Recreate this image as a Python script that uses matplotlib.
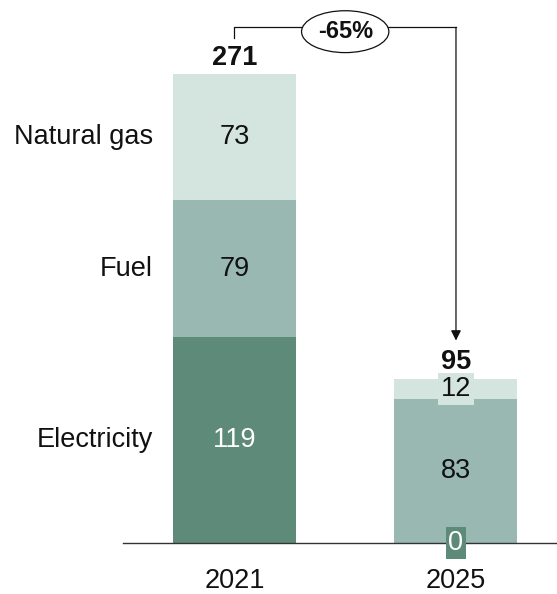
import matplotlib.pyplot as plt
import numpy as np

plt.rcParams["font.family"] = ["Liberation Sans", "DejaVu Sans"]

YEARS = ["2021", "2025"]
SEGMENTS = ["Electricity", "Fuel", "Natural gas"]
ELECTRICITY = [119, 0]
FUEL = [79, 83]
NATURAL_GAS = [73, 12]
CHANGE_LABEL = "-65%"

COLORS = {
    "Electricity": "#5e8a7a",
    "Fuel": "#99b8b2",
    "Natural gas": "#d4e5e0",
}
TEXT_COLORS = {
    "Electricity": "white",
    "Fuel": "#111111",
    "Natural gas": "#111111",
}

values = {"Electricity": ELECTRICITY, "Fuel": FUEL, "Natural gas": NATURAL_GAS}
x = np.arange(len(YEARS))
width = 0.555
FS = 19.5

fig = plt.figure(figsize=(5.57, 5.94), dpi=100)
ax = fig.add_axes([123 / 557, 51 / 594, 434 / 557, 543 / 594])

bottom = np.zeros(len(YEARS))
for seg in SEGMENTS:
    vals = np.array(values[seg], dtype=float)
    ax.bar(x, vals, width, bottom=bottom, color=COLORS[seg], edgecolor="none", zorder=2)
    for i, v in enumerate(vals):
        ax.text(
            x[i], bottom[i] + v / 2, f"{v:.0f}",
            ha="center", va="center", fontsize=FS, color=TEXT_COLORS[seg], zorder=4,
            bbox=dict(boxstyle="square,pad=0.1", fc=COLORS[seg], ec="none"),
        )
    # segment name to the left of the first bar
    ax.text(x[0] - width / 2 - 0.09, bottom[0] + vals[0] / 2, seg,
            ha="right", va="center", fontsize=FS, color="#111111")
    bottom += vals

totals = bottom
for i, t in enumerate(totals):
    ax.text(x[i], t + 5.5, f"{t:.0f}", ha="center", va="baseline",
            fontsize=FS, fontweight="bold", color="#111111")

# bracket with arrow from first total to second total
ytop = totals[0] + 27
ax.plot([x[0], x[0], x[1]], [totals[0] + 21, ytop, ytop], color="#111111", lw=0.9,
        clip_on=False, zorder=3)
ax.annotate("", xy=(x[1], totals[1] + 22), xytext=(x[1], ytop),
            arrowprops=dict(arrowstyle="-|>,head_length=0.6,head_width=0.3",
                            color="#111111", lw=0.9, shrinkA=0, shrinkB=0),
            annotation_clip=False)
ax.text((x[0] + x[1]) / 2, ytop - 2.5, CHANGE_LABEL, ha="center", va="center",
        fontsize=17, fontweight="bold", color="#111111", zorder=5,
        bbox=dict(boxstyle="ellipse,pad=0.14", fc="white", ec="#111111", lw=0.9))

ax.set_xlim(-0.503, 1.456)
ax.set_ylim(0, 313.8)
ax.set_xticks(x)
ax.set_xticklabels(YEARS, fontsize=FS, color="#111111")
ax.tick_params(axis="x", length=0, pad=18)
ax.set_yticks([])
for side in ["top", "right", "left"]:
    ax.spines[side].set_visible(False)
ax.spines["bottom"].set_color("#333333")
ax.spines["bottom"].set_linewidth(1.0)
ax.spines["bottom"].set_zorder(3)

fig.savefig("out.png", dpi=100)
